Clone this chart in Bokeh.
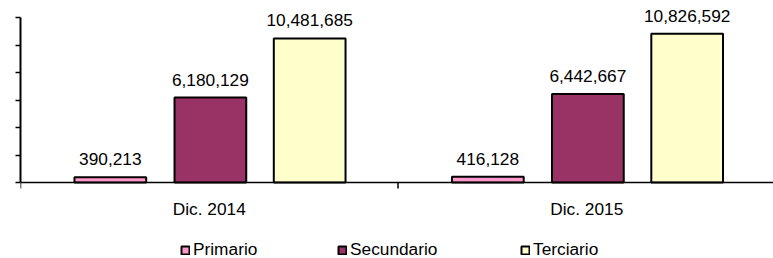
import math
from bokeh.plotting import figure
from bokeh.models import (ColumnDataSource, FixedTicker, Range1d, Legend,
                          LegendItem, LabelSet, Span)
from bokeh.core.properties import value
from bokeh.embed import file_html
from bokeh.resources import INLINE

categories = ["Dic. 2014", "Dic. 2015"]
series = ["Primario", "Secundario", "Terciario"]
primario = [390213, 416128]
secundario = [6180129, 6442667]
terciario = [10481685, 10826592]
y_ticks = [0, 2000000, 4000000, 6000000, 8000000, 10000000, 12000000]

colors = ["#FF99CC", "#993366", "#FFFFCC"]
offsets = [-0.262, 0.003, 0.266]
FONT = "Liberation Sans"
FS = "17.3px"

ymax = y_ticks[-1]
# frame: full 258 px tall; value axis 0..ymax occupies 165 px, starting 17 px below the top
p = figure(width=773, height=258, output_backend="svg", toolbar_location=None,
           x_range=Range1d(0, 753 / 377.5),
           y_range=Range1d(-ymax * 76 / 165, ymax + ymax * 17 / 165),
           x_axis_location=None,
           min_border_left=20, min_border_right=0, min_border_top=0,
           min_border_bottom=0)
p.outline_line_color = None
p.xgrid.visible = False
p.ygrid.visible = False
p.background_fill_color = "white"
p.border_fill_color = "white"

renderers = []
for name, vals, col, off in zip(series, [primario, secundario, terciario], colors, offsets):
    xs = [i + 0.5 + off for i in range(len(categories))]
    src = ColumnDataSource(dict(x=xs, top=vals, lab=[f"{v:,}" for v in vals]))
    r = p.vbar(x="x", top="top", width=0.19, bottom=0, source=src,
               fill_color=col, line_color="black", line_width=2)
    renderers.append(r)
    p.add_layout(LabelSet(x="x", y="top", text="lab", source=src,
                          text_align="center", text_baseline="alphabetic",
                          y_offset=12, text_font=value(FONT),
                          text_font_size=value(FS), text_color="black"))

# category axis: baseline line, boundary ticks and category labels
p.add_layout(Span(location=0, dimension="width", line_color="black", line_width=1.5))
bounds_x = list(range(len(categories) + 1))
p.ray(x=bounds_x, y=[0] * len(bounds_x), length=6, length_units="screen",
      angle=-math.pi / 2, line_color="black", line_width=1.5)
cat_src = ColumnDataSource(dict(x=[i + 0.5 for i in range(len(categories))],
                                y=[0] * len(categories), t=categories))
p.add_layout(LabelSet(x="x", y="y", text="t", source=cat_src,
                      text_align="center", text_baseline="alphabetic",
                      y_offset=-32, text_font=value(FONT),
                      text_font_size=value(FS), text_color="black"))

# value axis
ya = p.yaxis[0]
ya.ticker = FixedTicker(ticks=y_ticks, minor_ticks=[])
ya.bounds = (0, ymax)
ya.major_label_overrides = {t: "" for t in y_ticks}
ya.major_label_standoff = 0
ya.major_tick_out = 5
ya.major_tick_in = 0
ya.major_tick_line_width = 1.5
ya.major_tick_line_color = "black"
ya.axis_line_width = 2
ya.axis_line_color = "black"
ya.minor_tick_line_color = None

legend_x = [160, 317, 500]
for name, r, lx in zip(series, renderers, legend_x):
    leg = Legend(items=[LegendItem(label=name, renderers=[r])],
                 location=(lx, -2), orientation="horizontal",
                 padding=0, margin=0, spacing=0,
                 border_line_color=None, background_fill_alpha=0,
                 glyph_width=10, glyph_height=10, label_standoff=3,
                 label_text_font=FONT, label_text_font_size=FS,
                 label_text_color="black")
    p.add_layout(leg)

open("out.html", "w").write(file_html(p, INLINE))
